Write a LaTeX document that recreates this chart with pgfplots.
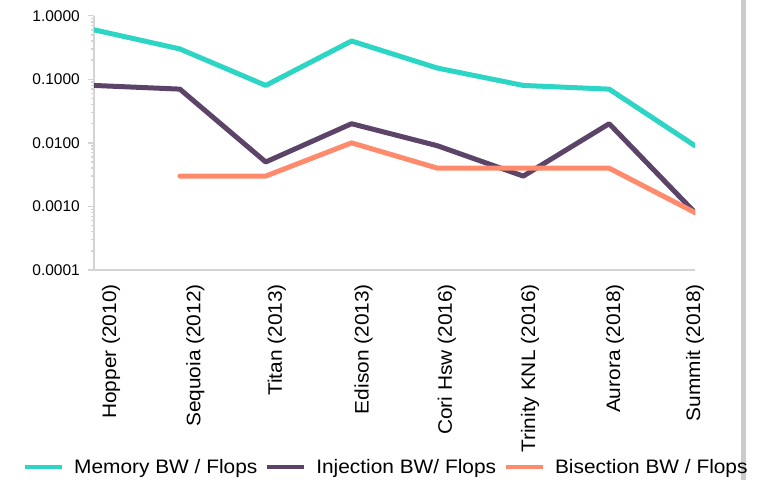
\documentclass[border=0pt]{standalone}
\usepackage{fontspec}
\setmainfont{Liberation Sans}
\newfontfamily\widesans[FakeStretch=1.07]{Liberation Sans}
\usepackage{pgfplots}
\pgfplotsset{compat=1.18}

\definecolor{memcol}{HTML}{2CD5C4}
\definecolor{injcol}{HTML}{5B4467}
\definecolor{biscol}{HTML}{FF8A6C}
\definecolor{axgray}{HTML}{D4D4D4}
\definecolor{bargray}{HTML}{C9CCCE}

\begin{document}
\begin{tikzpicture}
\useasboundingbox (0,0) rectangle (770pt,480pt);
% grey rule on the right-hand side
\fill[bargray] (740.5pt,0pt) rectangle (745.5pt,480pt);
\begin{axis}[
  at={(94pt,210pt)}, anchor=south west,
  scale only axis, width=601pt, height=254.3pt,
  ymode=log, ymin=1e-4, ymax=1,
  xmin=0, xmax=7,
  axis x line=bottom, axis y line=left,
  axis line style={axgray, line width=1.5pt, -},
  tick align=outside,
  major tick length=6pt,
  ytick={0.0001,0.001,0.01,0.1,1},
  yticklabels={0.0001,0.0010,0.0100,0.1000,1.0000},
  y tick style={axgray, line width=1.5pt},
  yticklabel style={font=\fontsize{15.5}{17}\selectfont, inner sep=0pt, xshift=-8pt},
  xtick={0.2,1.18,2.13,3.14,4.11,5.08,6.07,7.0},
  xticklabels={Hopper (2010),Sequoia (2012),Titan (2013),Edison (2013),Cori Hsw (2016),Trinity KNL (2016),Aurora (2018),Summit (2018)},
  x tick style={draw=none},
  xticklabel style={rotate=90, anchor=east, inner ysep=0pt, inner xsep=0pt, xshift=-8pt,
    font=\widesans\fontsize{19.5}{21}\selectfont},
  legend columns=3,
  legend style={at={(-0.1182,-0.7756)}, anchor=west, draw=none, fill=none,
    inner sep=0pt, font=\widesans\fontsize{19.5}{21}\selectfont,
    nodes={inner sep=0pt},
    /tikz/every odd column/.append style={column sep=10pt},
    /tikz/every even column/.append style={column sep=8pt}},
  legend image code/.code={\draw[#1, line width=4pt, line cap=butt] (0pt,0pt) -- (37pt,0pt);},
  every axis plot/.append style={line width=5pt, line join=round, line cap=round},
]
\addplot[memcol] coordinates {(0,0.6) (1,0.3) (2,0.08) (3,0.4) (4,0.15) (5,0.08) (6,0.07) (7,0.009)};
\addlegendentry{Memory BW / Flops}
\addplot[injcol] coordinates {(0,0.08) (1,0.07) (2,0.005) (3,0.02) (4,0.009) (5,0.003) (6,0.02) (7,0.0008)};
\addlegendentry{Injection BW/ Flops}
\addplot[biscol] coordinates {(1,0.003) (2,0.003) (3,0.01) (4,0.004) (5,0.004) (6,0.004) (7,0.0008)};
\addlegendentry{Bisection BW / Flops}
\end{axis}
\end{tikzpicture}
\end{document}
